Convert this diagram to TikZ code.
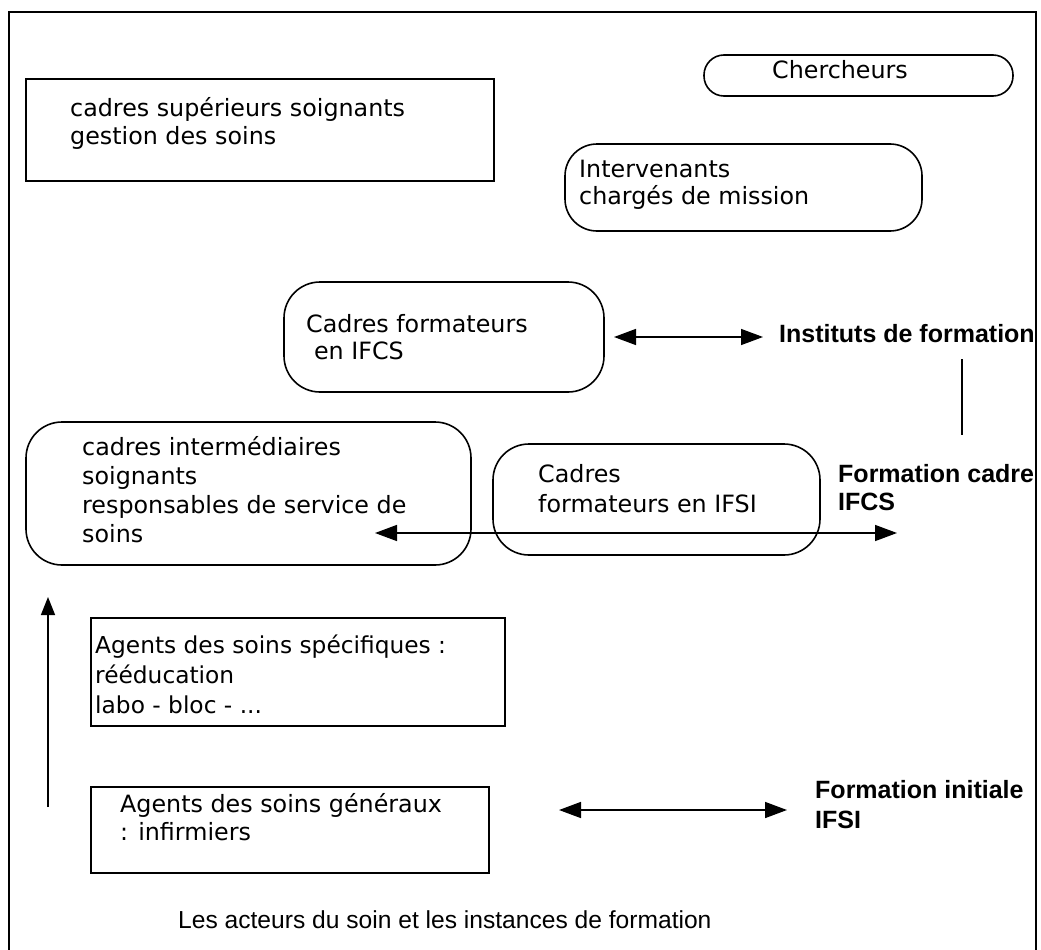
\documentclass[tikz,border=0pt]{standalone}
\usepackage{fontspec}
\setmainfont{DejaVu Sans}
\newfontfamily\helv{Liberation Sans}
\usetikzlibrary{arrows.meta}
\newcommand\mlines[1]{\begin{tabular}[t]{@{}l@{}}#1\end{tabular}}
\tikzset{
  frame/.style={line width=2pt},
  box/.style={draw, line width=1.6pt, anchor=north west, inner sep=0pt, outer sep=0pt},
  rbox/.style={box, rounded corners=#1},
  txt/.style={anchor=base west, inner sep=0pt, font=\fontsize{23.8}{28}\selectfont},
  blab/.style={anchor=base west, inner sep=0pt, font=\helv\bfseries\fontsize{25}{29}\selectfont},
  captiontxt/.style={anchor=base west, inner sep=0pt, font=\helv\fontsize{24.6}{29}\selectfont},
  dbl/.style={line width=1.5pt, {Triangle[length=22pt,width=16pt]}-{Triangle[length=22pt,width=16pt]}},
  uparr/.style={line width=1.5pt, -{Triangle[length=18pt,width=14pt]}},
  plain/.style={line width=1.3pt}
}
\begin{document}
\begin{tikzpicture}[x=1pt,y=-1pt]
\useasboundingbox (0,0) rectangle (1041,950);
% outer frame
\draw[frame] (9,952) -- (9,12) -- (1036,12) -- (1036,952);

% boxes
\node[box, minimum width=468pt, minimum height=102pt] (sup) at (26,79) {};
\node[txt] (suptxt) at (70,116) {\mlines{cadres supérieurs soignants\\gestion des soins}};

\node[rbox=20pt, minimum width=309pt, minimum height=41pt] (cher) at (704,55) {};
\node[txt, anchor=base] (chertxt) at (840,78) {Chercheurs};

\node[rbox=32pt, minimum width=357pt, minimum height=87pt] (interv) at (565,144) {};
\node[txt, font=\fontsize{23.8}{27}\selectfont] (intervtxt) at (579,177) {\mlines{Intervenants\\chargés de mission}};

\node[rbox=36pt, minimum width=320pt, minimum height=110pt] (ifcs) at (284,282) {};
\node[txt, font=\fontsize{23.8}{27}\selectfont] (ifcstxt) at (306,332) {\mlines{Cadres formateurs\\\hspace*{0.33em}en IFCS}};

\node[rbox=36pt, minimum width=445pt, minimum height=143pt] (inter) at (26,422) {};
\node[txt, font=\fontsize{23.8}{29.3}\selectfont] (intertxt) at (82,455) {\mlines{cadres intermédiaires\\soignants\\responsables de service de\\soins}};

\node[rbox=36pt, minimum width=327pt, minimum height=111pt] (ifsi) at (493,444) {};
\node[txt, font=\fontsize{23.8}{30}\selectfont] (ifsitxt) at (538,482) {\mlines{Cadres\\formateurs en IFSI}};

\node[box, minimum width=414pt, minimum height=108pt] (spec) at (91,618) {};
\node[txt, font=\fontsize{23.3}{30}\selectfont] (spectxt) at (95,653) {\mlines{Agents des soins spécifiques :\\rééducation\\labo - bloc - ...}};

\node[box, minimum width=398pt, minimum height=86pt] (gen) at (91,787) {};
\node[txt] (gentxt) at (120,812) {\mlines{Agents des soins généraux\\: infirmiers}};

% bold labels
\node[blab] (inst) at (779,342) {Instituts de formation};
\node[blab, font=\helv\bfseries\fontsize{25}{28}\selectfont] (fcadre) at (838,482) {\mlines{Formation cadre\\IFCS}};
\node[blab, font=\helv\bfseries\fontsize{25}{30}\selectfont] (finit) at (815,798) {\mlines{Formation initiale\\IFSI}};
\node[captiontxt] (caption) at (178,928) {Les acteurs du soin et les instances de formation};

% connectors
\coordinate (a1) at (614,337);
\coordinate (a2) at (763,337);
\draw[dbl] (a1) -- (a2);

\coordinate (v1) at (962,359);
\coordinate (v2) at (962,435);
\draw[plain] (v1) -- (v2);

\coordinate (b1) at (375,533);
\coordinate (b2) at (897,533);
\draw[dbl] (b1) -- (b2);

\coordinate (c1) at (559,810);
\coordinate (c2) at (787,810);
\draw[dbl] (c1) -- (c2);

\coordinate (u1) at (48,807);
\coordinate (u2) at (48,597);
\draw[uparr] (u1) -- (u2);
\end{tikzpicture}
\end{document}
